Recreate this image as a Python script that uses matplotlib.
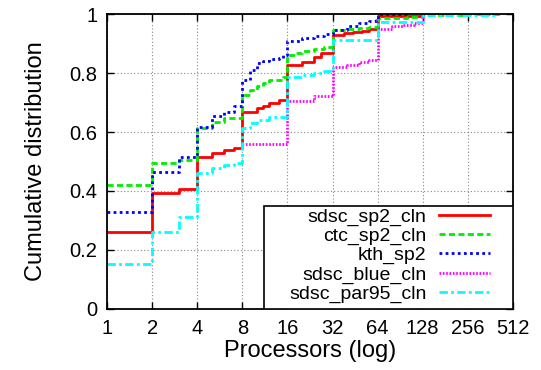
import numpy as np
import matplotlib
matplotlib.use('Agg')
import matplotlib.pyplot as plt
from matplotlib.patches import Rectangle

plt.rcParams['font.family'] = ['Liberation Sans', 'DejaVu Sans']

# Job size CDFs per workload (processors, cumulative fraction)
sp2_procs = [1, 2, 3, 4, 5, 6, 7, 8, 10, 11, 12, 14, 16, 20, 24, 27,
             32, 38, 44, 50, 56, 64, 128]
sp2_cdf = [0.262, 0.394, 0.406, 0.516, 0.528, 0.539, 0.545, 0.669, 0.680,
           0.688, 0.699, 0.708, 0.827, 0.838, 0.855, 0.867,
           0.930, 0.936, 0.940, 0.944, 0.948, 0.995, 1.0]

ctc_procs = [1, 2, 3, 4, 5, 6, 8, 9, 10, 11, 12, 15, 16, 18, 20, 24, 28,
             32, 40, 48, 56, 64, 100, 128, 256, 430]
ctc_cdf = [0.420, 0.494, 0.505, 0.612, 0.635, 0.646, 0.725, 0.742, 0.755,
           0.765, 0.776, 0.785, 0.861, 0.868, 0.876, 0.882, 0.889,
           0.946, 0.950, 0.954, 0.957, 0.985, 0.991, 0.998, 0.9995, 1.0]

kth_procs = [1, 2, 3, 4, 5, 6, 7, 8, 9, 10, 11, 12, 14, 15, 16, 20, 24,
             28, 32, 40, 48, 56, 62, 64, 100]
kth_cdf = [0.330, 0.465, 0.515, 0.618, 0.654, 0.669, 0.688, 0.776, 0.810,
           0.833, 0.840, 0.846, 0.852, 0.861, 0.910, 0.918, 0.926,
           0.934, 0.946, 0.958, 0.968, 0.975, 0.980, 1.0, 1.0]

blue_procs = [8, 16, 24, 32, 40, 48, 56, 64, 80, 96, 112, 128]
blue_cdf = [0.559, 0.706, 0.722, 0.819, 0.827, 0.838, 0.844, 0.949,
            0.958, 0.963, 0.968, 1.0]

par95_procs = [1, 2, 3, 4, 5, 6, 7, 8, 9, 10, 12, 16, 20, 24, 28, 31,
               32, 64, 128, 400]
par95_cdf = [0.153, 0.260, 0.311, 0.462, 0.477, 0.488, 0.494, 0.612, 0.629,
             0.641, 0.650, 0.788, 0.795, 0.800, 0.808, 0.816,
             0.912, 0.974, 0.998, 1.0]

series = [
    ('sdsc_sp2_cln', sp2_procs, sp2_cdf, '#ff0000', '-'),
    ('ctc_sp2_cln', ctc_procs, ctc_cdf, '#00ee00', (0, (2.2, 1.2))),
    ('kth_sp2', kth_procs, kth_cdf, '#0000ff', (0, (1.0, 1.2))),
    ('sdsc_blue_cln', blue_procs, blue_cdf, '#ff00ff', (0, (0.6, 0.6))),
    ('sdsc_par95_cln', par95_procs, par95_cdf, '#00ffff', (0, (3.0, 1.2, 1.0, 1.2))),
]

xticks = [1, 2, 4, 8, 16, 32, 64, 128, 256, 512]
yticks = [0, 0.2, 0.4, 0.6, 0.8, 1]

fig = plt.figure(figsize=(5.41, 3.70), dpi=100)
ax = fig.add_axes([0.198, 0.165, 0.750, 0.797])

for name, px, py, color, ls in series:
    ax.step(px, py, where='post', color=color, linestyle=ls, linewidth=2.0,
            label=name)

ax.set_xscale('log', base=2)
ax.set_xlim(1, 512)
ax.set_ylim(0, 1)
ax.set_xticks(xticks)
ax.set_xticklabels([str(t) for t in xticks])
ax.set_yticks(yticks)
ax.set_yticklabels(['0', '0.2', '0.4', '0.6', '0.8', '1'])
ax.minorticks_off()
ax.tick_params(direction='in', top=True, right=True, length=5, width=1,
               labelsize=14.5, pad=7)
ax.grid(True, color='#888888', linestyle=(0, (1, 2)), linewidth=0.8)
for sp in ax.spines.values():
    sp.set_linewidth(1.3)

ax.set_xlabel('Processors (log)', fontsize=17, labelpad=2)
ax.set_ylabel('Cumulative distribution', fontsize=17, labelpad=16)

# key box (gnuplot style: wide, flush with the lower right corner)
ax.add_patch(Rectangle((0.387, 0.0), 0.613, 0.349, transform=ax.transAxes,
                       facecolor='white', edgecolor='black', linewidth=1.2,
                       zorder=4))
leg = ax.legend(loc='lower right', bbox_to_anchor=(0.943, 0.02),
                markerfirst=False, fontsize=14, frameon=False,
                borderaxespad=0, borderpad=0, handlelength=2.6,
                handletextpad=0.65, labelspacing=0.08)
leg.set_zorder(5)

fig.savefig('out.png', dpi=100)
